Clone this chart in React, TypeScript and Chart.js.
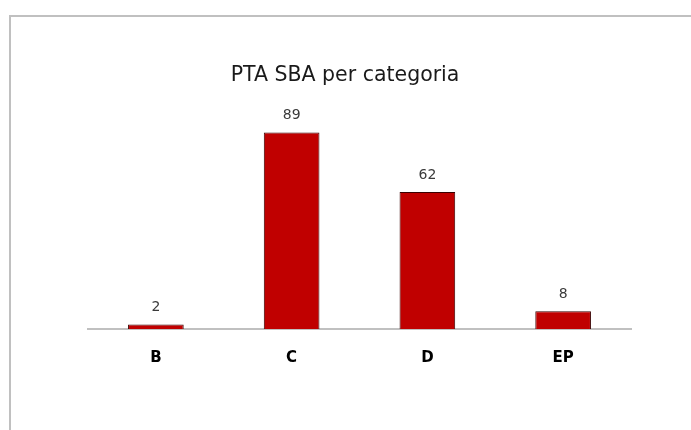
import React, { useEffect, useRef } from "react";
import { Chart, registerables } from "chart.js";

Chart.register(...registerables);

const categories = ["B", "C", "D", "EP"];
const values = [2, 89, 62, 8];
const titleText = "PTA SBA per categoria";

const valueLabels = {
  id: "valueLabels",
  afterDatasetsDraw(chart: any) {
    const ctx = chart.ctx;
    const meta = chart.getDatasetMeta(0);
    ctx.save();
    ctx.font = "14px 'DejaVu Sans'";
    ctx.fillStyle = "#3a3a3a";
    ctx.textAlign = "center";
    ctx.textBaseline = "bottom";
    meta.data.forEach((bar: any, i: number) => {
      ctx.fillText(String(values[i]), bar.x, bar.y - 10);
    });
    ctx.restore();
  },
};

export default function App() {
  const ref = useRef<HTMLCanvasElement>(null);
  useEffect(() => {
    if (!ref.current) return;
    const chart = new Chart(ref.current, {
      type: "bar",
      data: {
        labels: categories,
        datasets: [
          {
            data: values,
            backgroundColor: "#c00000",
            borderColor: "#3a0000",
            borderWidth: 1,
            barPercentage: 0.41,
            categoryPercentage: 1,
          },
        ],
      },
      options: {
        responsive: false,
        animation: false,
        layout: { padding: { left: 48, right: 60, top: 46, bottom: 43 } },
        plugins: {
          legend: { display: false },
          tooltip: { enabled: false },
          title: {
            display: true,
            text: titleText,
            color: "#1a1a1a",
            font: { family: "'DejaVu Sans'", size: 20.5, weight: "normal" },
            padding: { top: 0, bottom: 20.6 },
          },
        },
        scales: {
          x: {
            grid: { display: false, drawTicks: false },
            border: { display: true, color: "#c0c0c0", width: 2 },
            ticks: {
              color: "#000",
              font: { family: "'DejaVu Sans'", size: 15, weight: "bold" },
              padding: 20,
            },
          },
          y: {
            min: 0,
            max: 100,
            grid: { display: false, drawTicks: false },
            border: { display: false },
            ticks: { display: false },
            afterFit: (scale: any) => {
              scale.width = 29;
            },
          },
        },
      },
      plugins: [valueLabels],
    });
    return () => chart.destroy();
  }, []);
  return (
    <div style={{ position: "fixed", inset: 0, overflow: "hidden", background: "#fff" }}>
      <div
        style={{
          position: "absolute",
          left: 9,
          top: 15,
          width: 720,
          height: 460,
          border: "2px solid #c0c0c0",
        }}
      />
      <canvas
        ref={ref}
        width={680}
        height={413}
        style={{ position: "absolute", left: 11, top: 17, width: 680, height: 413 }}
      />
    </div>
  );
}
